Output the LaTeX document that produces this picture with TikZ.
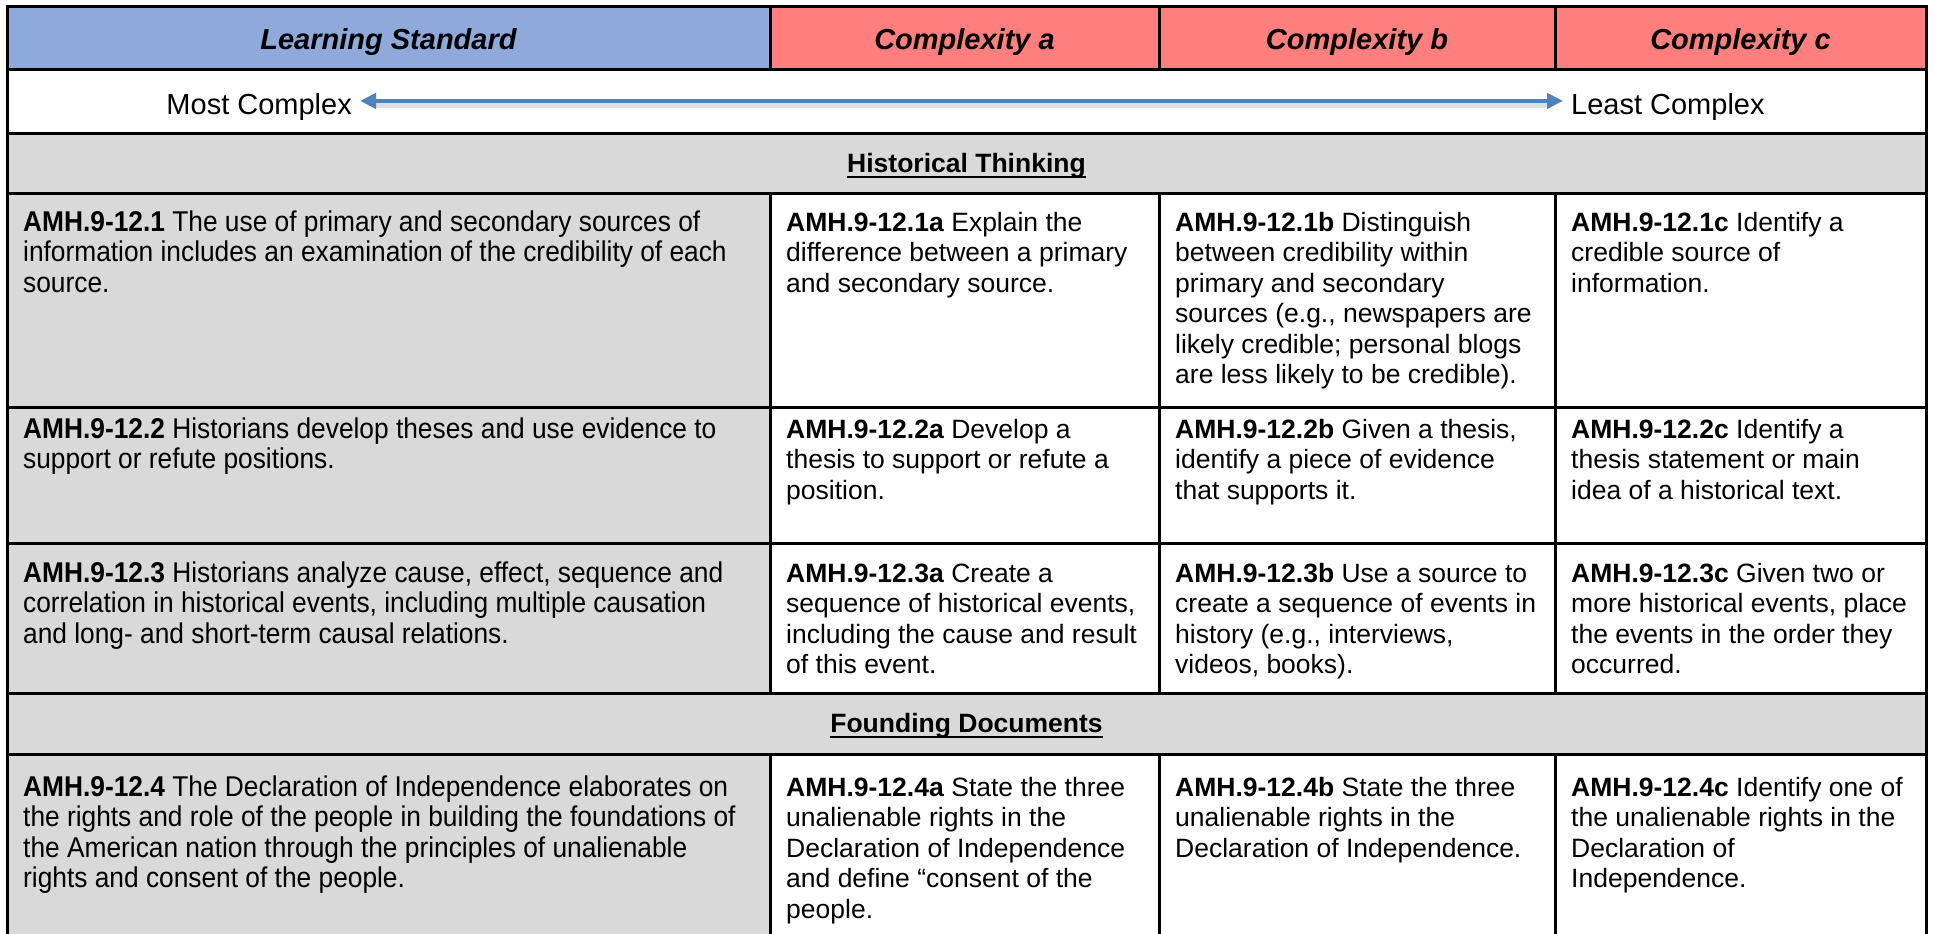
\documentclass[tikz,border=0pt]{standalone}
\usepackage{fontspec}
\setmainfont{Liberation Sans}
\newfontfamily\narrowfont[FakeStretch=0.92]{Liberation Sans}
\usetikzlibrary{arrows.meta}
\definecolor{hdrblue}{HTML}{8EAADB}
\definecolor{hdrred}{HTML}{FF7F7F}
\definecolor{rowgray}{HTML}{D9D9D9}
\definecolor{arrowblue}{HTML}{4F81BD}
\newcommand\firststrut{\rule{0pt}{32pt}}
\newsavebox\ulbox
\newcommand\ulword[1]{\sbox\ulbox{#1}\rlap{\rule[-6pt]{\wd\ulbox}{2.5pt}}\usebox\ulbox}
\begin{document}
\begin{tikzpicture}[x=1pt,y=-1pt,
  bodycell/.style={anchor=north west, inner sep=0pt, align=left, font=\fontsize{26.5}{30.5}\selectfont},
  stdcell/.style={bodycell, font=\narrowfont\fontsize{28.6}{30.5}\selectfont},
  hdrtext/.style={anchor=base, inner sep=0pt, font=\fontsize{29}{33}\selectfont\bfseries\itshape},
  secttext/.style={anchor=base, inner sep=0pt, font=\fontsize{26.5}{30.5}\selectfont\bfseries},
  endlabel/.style={font=\fontsize{29}{33}\selectfont, inner ysep=0pt, inner xsep=8pt},
  tableline/.style={line width=3pt, black},
]
\useasboundingbox (0,0) rectangle (1933,934);
% fills
\fill[hdrblue] (7,7) rectangle (770,70);
\fill[hdrred] (770,7) rectangle (1926,70);
\fill[rowgray] (7,133) rectangle (1926,193);
\fill[rowgray] (7,193) rectangle (770,693);
\fill[rowgray] (7,693) rectangle (1926,754);
\fill[rowgray] (7,754) rectangle (770,934);
% grid
\foreach \y in {7,70,133,193,407,543,693,754} \draw[tableline] (5.5,\y) -- (1927.5,\y);
\draw[tableline] (7,5.5) -- (7,934);
\draw[tableline] (1926,5.5) -- (1926,934);
\foreach \x in {770,1159,1555} {
  \draw[tableline] (\x,7) -- (\x,70);
  \draw[tableline] (\x,193) -- (\x,693);
  \draw[tableline] (\x,754) -- (\x,934);
}
% headers
\node[hdrtext] (hls) at (388.5,50) {Learning Standard};
\node[hdrtext] (hca) at (964.5,50) {Complexity a};
\node[hdrtext] (hcb) at (1357,50) {Complexity b};
\node[hdrtext] (hcc) at (1740.5,50) {Complexity c};
% complexity scale
\node[endlabel, anchor=base east] (most) at (360,114) {Most Complex};
\node[endlabel, anchor=base west] (least) at (1563,114) {Least Complex};
\draw[black, opacity=0.12, line width=7pt] ([yshift=2pt,xshift=12pt]most.east) -- ([yshift=2pt,xshift=-12pt]least.west);
\draw[arrowblue, line width=4pt, {Triangle[length=16pt,width=15pt]}-{Triangle[length=16pt,width=15pt]}] ([yshift=5.6pt]most.east) -- ([yshift=5.6pt]least.west);
% section titles
\node[secttext] (ht) at (966.5,172) {\ulword{Historical Thinking}};
\node[secttext] (fd) at (966.5,732) {\ulword{Founding Documents}};
% row 1
\node[stdcell] (s1) at (23,199) {\firststrut\textbf{AMH.9-12.1} The use of primary and secondary sources of\\information includes an examination of the credibility of each\\source.};
\node[bodycell] (s1a) at (786,199) {\firststrut\textbf{AMH.9-12.1a} Explain the\\difference between a primary\\and secondary source.};
\node[bodycell] (s1b) at (1175,199) {\firststrut\textbf{AMH.9-12.1b} Distinguish\\between credibility within\\primary and secondary\\sources (e.g., newspapers are\\likely credible; personal blogs\\are less likely to be credible).};
\node[bodycell] (s1c) at (1571,199) {\firststrut\textbf{AMH.9-12.1c} Identify a\\credible source of\\information.};
% row 2
\node[stdcell] (s2) at (23,406) {\firststrut\textbf{AMH.9-12.2} Historians develop theses and use evidence to\\support or refute positions.};
\node[bodycell] (s2a) at (786,406) {\firststrut\textbf{AMH.9-12.2a} Develop a\\thesis to support or refute a\\position.};
\node[bodycell] (s2b) at (1175,406) {\firststrut\textbf{AMH.9-12.2b} Given a thesis,\\identify a piece of evidence\\that supports it.};
\node[bodycell] (s2c) at (1571,406) {\firststrut\textbf{AMH.9-12.2c} Identify a\\thesis statement or main\\idea of a historical text.};
% row 3
\node[stdcell] (s3) at (23,550) {\firststrut\textbf{AMH.9-12.3} Historians analyze cause, effect, sequence and\\correlation in historical events, including multiple causation\\and long- and short-term causal relations.};
\node[bodycell] (s3a) at (786,550) {\firststrut\textbf{AMH.9-12.3a} Create a\\sequence of historical events,\\including the cause and result\\of this event.};
\node[bodycell] (s3b) at (1175,550) {\firststrut\textbf{AMH.9-12.3b} Use a source to\\create a sequence of events in\\history (e.g., interviews,\\videos, books).};
\node[bodycell] (s3c) at (1571,550) {\firststrut\textbf{AMH.9-12.3c} Given two or\\more historical events, place\\the events in the order they\\occurred.};
% row 4
\node[stdcell] (s4) at (23,764) {\firststrut\textbf{AMH.9-12.4} The Declaration of Independence elaborates on\\the rights and role of the people in building the foundations of\\the American nation through the principles of unalienable\\rights and consent of the people.};
\node[bodycell] (s4a) at (786,764) {\firststrut\textbf{AMH.9-12.4a} State the three\\unalienable rights in the\\Declaration of Independence\\and define “consent of the\\people.};
\node[bodycell] (s4b) at (1175,764) {\firststrut\textbf{AMH.9-12.4b} State the three\\unalienable rights in the\\Declaration of Independence.};
\node[bodycell] (s4c) at (1571,764) {\firststrut\textbf{AMH.9-12.4c} Identify one of\\the unalienable rights in the\\Declaration of\\Independence.};
\end{tikzpicture}
\end{document}
